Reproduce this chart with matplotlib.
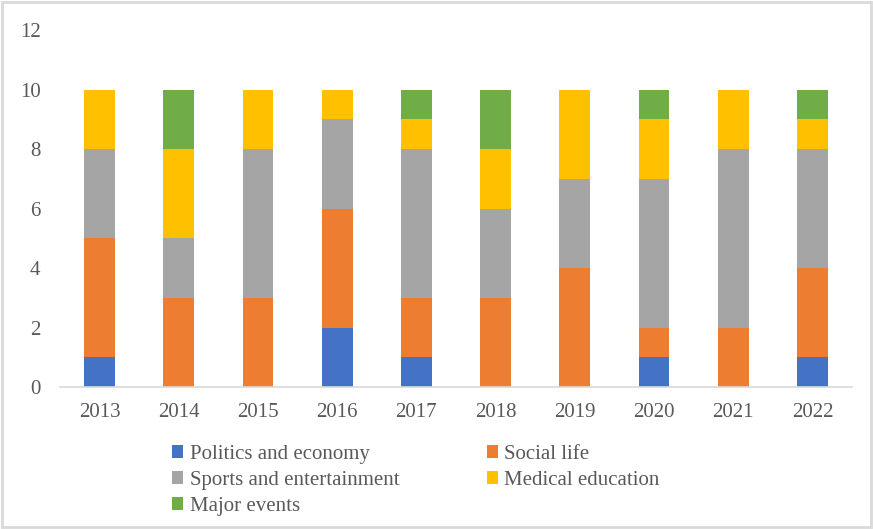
import numpy as np
import matplotlib
matplotlib.use('Agg')
from matplotlib import pyplot as plt
from matplotlib.patches import Rectangle

plt.rcParams['font.family'] = ['Liberation Serif', 'DejaVu Serif']

years = ['2013', '2014', '2015', '2016', '2017', '2018', '2019', '2020', '2021', '2022']
politics = [1, 0, 0, 2, 1, 0, 0, 1, 0, 1]
social = [4, 3, 3, 4, 2, 3, 4, 1, 2, 3]
sports = [3, 2, 5, 3, 5, 3, 3, 5, 6, 4]
medical = [2, 3, 2, 1, 1, 2, 3, 2, 2, 1]
major = [0, 2, 0, 0, 1, 2, 0, 1, 0, 1]

names = ['Politics and economy', 'Social life', 'Sports and entertainment',
         'Medical education', 'Major events']
colors = ['#4472C4', '#ED7D31', '#A5A5A5', '#FFC000', '#70AD47']
series = [politics, social, sports, medical, major]

fig = plt.figure(figsize=(8.73, 5.29), dpi=100)
ax = fig.add_axes([0.0687, 0.268, 0.9073, 0.675])

x = np.arange(len(years))
bottom = np.zeros(len(years))
bars = []
for vals, name, c in zip(series, names, colors):
    b = ax.bar(x, vals, 0.39, bottom=bottom, color=c, label=name)
    bars.append(b)
    bottom += np.array(vals)

ax.set_xlim(-0.5, len(years) - 0.5)
ax.set_ylim(0, 12)
ax.set_yticks(range(0, 13, 2))
ax.set_xticks(x)
ax.set_xticklabels(years)
for s in ['top', 'right', 'left']:
    ax.spines[s].set_visible(False)
ax.spines['bottom'].set_color('#d9d9d9')
ax.spines['bottom'].set_linewidth(1.2)
ax.tick_params(axis='both', length=0, labelsize=15, colors='#595959')
ax.tick_params(axis='y', pad=14)
ax.tick_params(axis='x', pad=11)

order = [0, 2, 4, 1, 3]
fig.legend([bars[i] for i in order], [names[i] for i in order], ncol=2,
           loc='upper left', bbox_to_anchor=(0.185, 0.179), frameon=False,
           fontsize=15, handlelength=0.55, handleheight=0.55, handletextpad=0.3,
           columnspacing=4.2, labelspacing=0.34, labelcolor='#595959',
           borderpad=0)

fig.patches.append(Rectangle((0.002, 0.003), 0.996, 0.994, transform=fig.transFigure,
                             fill=False, edgecolor='#d9d9d9', linewidth=2))

plt.savefig('out.png', dpi=100)
